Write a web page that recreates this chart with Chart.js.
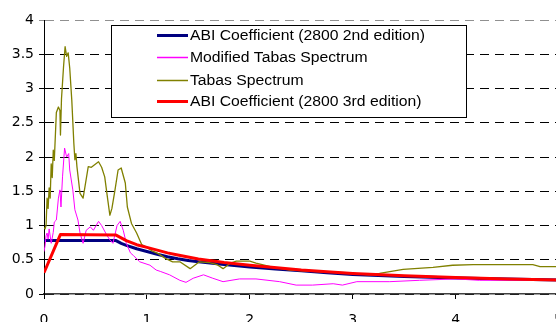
<!DOCTYPE html>
<html>
<head>
<meta charset="utf-8">
<script src="https://cdn.jsdelivr.net/npm/chart.js@4/dist/chart.umd.min.js"></script>
<style>
html,body{margin:0;padding:0;background:#fff;overflow:hidden;width:556px;height:322px;}
#wrap{position:absolute;left:0;top:0;width:576px;height:322px;}
</style>
</head>
<body>
<div id="wrap"><canvas id="c" width="576" height="322"></canvas></div>
<script>
// ---- data ----
const seriesNames = [
  'ABI Coefficient (2800 2nd edition)',
  'Modified Tabas Spectrum',
  'Tabas Spectrum',
  'ABI Coefficient (2800 3rd edition)'
];
const abi2T  = [0, 0.7, 0.75, 0.8, 0.9, 1.0, 1.1, 1.2, 1.3, 1.4, 1.5, 1.75, 2.0, 2.25, 2.5, 2.75, 3.0, 3.5, 4.0, 4.5, 5.0];
const abi2Sa = [0.78, 0.78, 0.74, 0.71, 0.66, 0.62, 0.58, 0.545, 0.515, 0.49, 0.47, 0.43, 0.395, 0.365, 0.34, 0.31, 0.285, 0.255, 0.235, 0.22, 0.205];

const modT  = [0, 0.01, 0.02, 0.03, 0.04, 0.05, 0.07, 0.09, 0.1, 0.12, 0.14, 0.155, 0.165, 0.18, 0.2, 0.22, 0.24, 0.25, 0.28, 0.3, 0.33, 0.35, 0.38, 0.41, 0.45, 0.48, 0.53, 0.56, 0.61, 0.64, 0.67, 0.71, 0.74, 0.77, 0.8, 0.84, 0.87, 0.93, 1.03, 1.09, 1.13, 1.22, 1.32, 1.38, 1.45, 1.55, 1.64, 1.74, 1.9, 2.06, 2.29, 2.45, 2.61, 2.81, 2.9, 3.04, 3.36, 3.65, 4.0, 4.23, 5.0];
const modSa = [0.62, 0.7, 0.85, 0.89, 0.8, 0.95, 0.74, 0.9, 1.05, 1.08, 1.4, 1.52, 1.27, 1.71, 2.13, 2.0, 2.05, 1.81, 1.52, 1.23, 1.08, 0.89, 0.74, 0.93, 0.98, 0.93, 1.06, 1.0, 0.86, 0.79, 0.74, 1.0, 1.06, 0.93, 0.74, 0.6, 0.56, 0.47, 0.42, 0.35, 0.33, 0.28, 0.2, 0.17, 0.23, 0.28, 0.23, 0.18, 0.22, 0.22, 0.18, 0.13, 0.13, 0.15, 0.13, 0.18, 0.18, 0.2, 0.22, 0.2, 0.2];

const tabasT  = [0, 0.01, 0.02, 0.03, 0.04, 0.05, 0.06, 0.07, 0.08, 0.09, 0.1, 0.11, 0.12, 0.14, 0.155, 0.16, 0.17, 0.19, 0.205, 0.22, 0.235, 0.25, 0.27, 0.29, 0.3, 0.31, 0.32, 0.35, 0.38, 0.43, 0.46, 0.53, 0.56, 0.59, 0.62, 0.64, 0.66, 0.69, 0.72, 0.75, 0.79, 0.81, 0.85, 0.9, 0.95, 1.0, 1.05, 1.11, 1.18, 1.25, 1.32, 1.42, 1.51, 1.6, 1.68, 1.74, 1.81, 1.87, 2.0, 2.06, 2.2, 2.39, 2.61, 2.94, 3.16, 3.26, 3.49, 3.78, 3.97, 4.17, 4.75, 4.82, 5.0];
const tabasSa = [0.97, 0.95, 1.0, 1.4, 1.25, 1.55, 1.4, 1.9, 1.7, 2.1, 1.95, 2.3, 2.65, 2.73, 2.68, 2.32, 2.85, 3.32, 3.61, 3.47, 3.52, 3.3, 2.83, 2.2, 1.96, 2.05, 1.86, 1.47, 1.4, 1.86, 1.85, 1.93, 1.85, 1.71, 1.37, 1.15, 1.25, 1.52, 1.81, 1.84, 1.62, 1.27, 1.03, 0.89, 0.72, 0.68, 0.63, 0.59, 0.52, 0.47, 0.47, 0.37, 0.47, 0.46, 0.43, 0.37, 0.45, 0.48, 0.48, 0.45, 0.4, 0.35, 0.33, 0.31, 0.28, 0.3, 0.36, 0.39, 0.42, 0.43, 0.43, 0.4, 0.4];

const abi3T  = [0, 0.16, 0.7, 0.75, 0.8, 0.9, 1.0, 1.1, 1.2, 1.3, 1.4, 1.5, 1.75, 2.0, 2.5, 3.0, 3.5, 4.0, 4.5, 5.0];
const abi3Sa = [0.31, 0.87, 0.86, 0.82, 0.78, 0.72, 0.68, 0.64, 0.6, 0.57, 0.54, 0.51, 0.46, 0.42, 0.35, 0.3, 0.265, 0.24, 0.22, 0.205];

const xTicks = [0, 1, 2, 3, 4, 5];
const yTicks = [0, 0.5, 1, 1.5, 2, 2.5, 3, 3.5, 4];

const pts = (t, v) => t.map((x, i) => ({x: x, y: v[i]}));

const legendPlugin = {
  id: 'boxLegend',
  afterDatasetsDraw(chart) {
    const ctx = chart.ctx;
    ctx.save();
    ctx.fillStyle = '#fff';
    ctx.fillRect(111.5, 25.5, 355, 92);
    ctx.strokeStyle = '#000';
    ctx.lineWidth = 1;
    ctx.strokeRect(111.5, 25.5, 355, 92);
    const rows = [35, 57, 80, 101];
    ctx.font = '14px "Liberation Sans", Arial, sans-serif';
    ctx.textBaseline = 'middle';
    const ref = ctx.measureText(chart.data.datasets[0].label).width;
    const sx = 235 / ref;
    chart.data.datasets.forEach((ds, i) => {
      const y = rows[i];
      ctx.strokeStyle = ds.borderColor;
      ctx.lineWidth = Math.max(ds.borderWidth, 1.5);
      ctx.beginPath();
      ctx.moveTo(157, y + 0.5);
      ctx.lineTo(188, y + 0.5);
      ctx.stroke();
      ctx.fillStyle = '#000';
      ctx.save();
      ctx.translate(190, y + 1);
      ctx.scale(sx, 1);
      ctx.fillText(ds.label, 0, 0);
      ctx.restore();
    });
    ctx.restore();
  }
};

const tickFont = {family: '"DejaVu Sans", sans-serif', size: 14};

new Chart(document.getElementById('c'), {
  type: 'line',
  data: {
    datasets: [
      {label: seriesNames[0], data: pts(abi2T, abi2Sa), borderColor: '#000080', borderWidth: 3, order: 4},
      {label: seriesNames[1], data: pts(modT, modSa), borderColor: '#FF00FF', borderWidth: 1, order: 3},
      {label: seriesNames[2], data: pts(tabasT, tabasSa), borderColor: '#808000', borderWidth: 1.3, order: 2},
      {label: seriesNames[3], data: pts(abi3T, abi3Sa), borderColor: '#FF0000', borderWidth: 3, order: 1}
    ]
  },
  options: {
    responsive: false,
    animation: false,
    devicePixelRatio: 1,
    elements: {point: {radius: 0}, line: {tension: 0, fill: false, borderJoinStyle: 'round'}},
    layout: {padding: {top: 20, right: 7, left: 0, bottom: 0}},
    plugins: {legend: {display: false}, tooltip: {enabled: false}},
    scales: {
      x: {
        type: 'linear', min: 0, max: 5,
        afterBuildTicks: s => { s.ticks = xTicks.map(v => ({value: v})); },
        afterFit: s => { s.height = 28; },
        ticks: {font: tickFont, color: '#000', padding: 13, maxRotation: 0, autoSkip: false, callback: v => String(v)},
        grid: {display: true, drawOnChartArea: false, drawTicks: true, tickLength: 5, color: '#000', lineWidth: 1},
        border: {display: true, color: '#404040', width: 1.5}
      },
      y: {
        type: 'linear', min: 0, max: 4,
        afterBuildTicks: s => { s.ticks = yTicks.map(v => ({value: v})); },
        afterFit: s => { s.width = 44; },
        ticks: {font: tickFont, color: '#000', padding: 5, autoSkip: false, callback: v => String(v)},
        grid: {
          display: true, drawTicks: true, tickLength: 5,
          color: ctx => (ctx.tick && ctx.tick.value === 4) ? '#909090' : '#000',
          lineWidth: 1
        },
        border: {display: true, color: '#000', width: 1, dash: [9, 6]}
      }
    }
  },
  plugins: [legendPlugin]
});
</script>
</body>
</html>
